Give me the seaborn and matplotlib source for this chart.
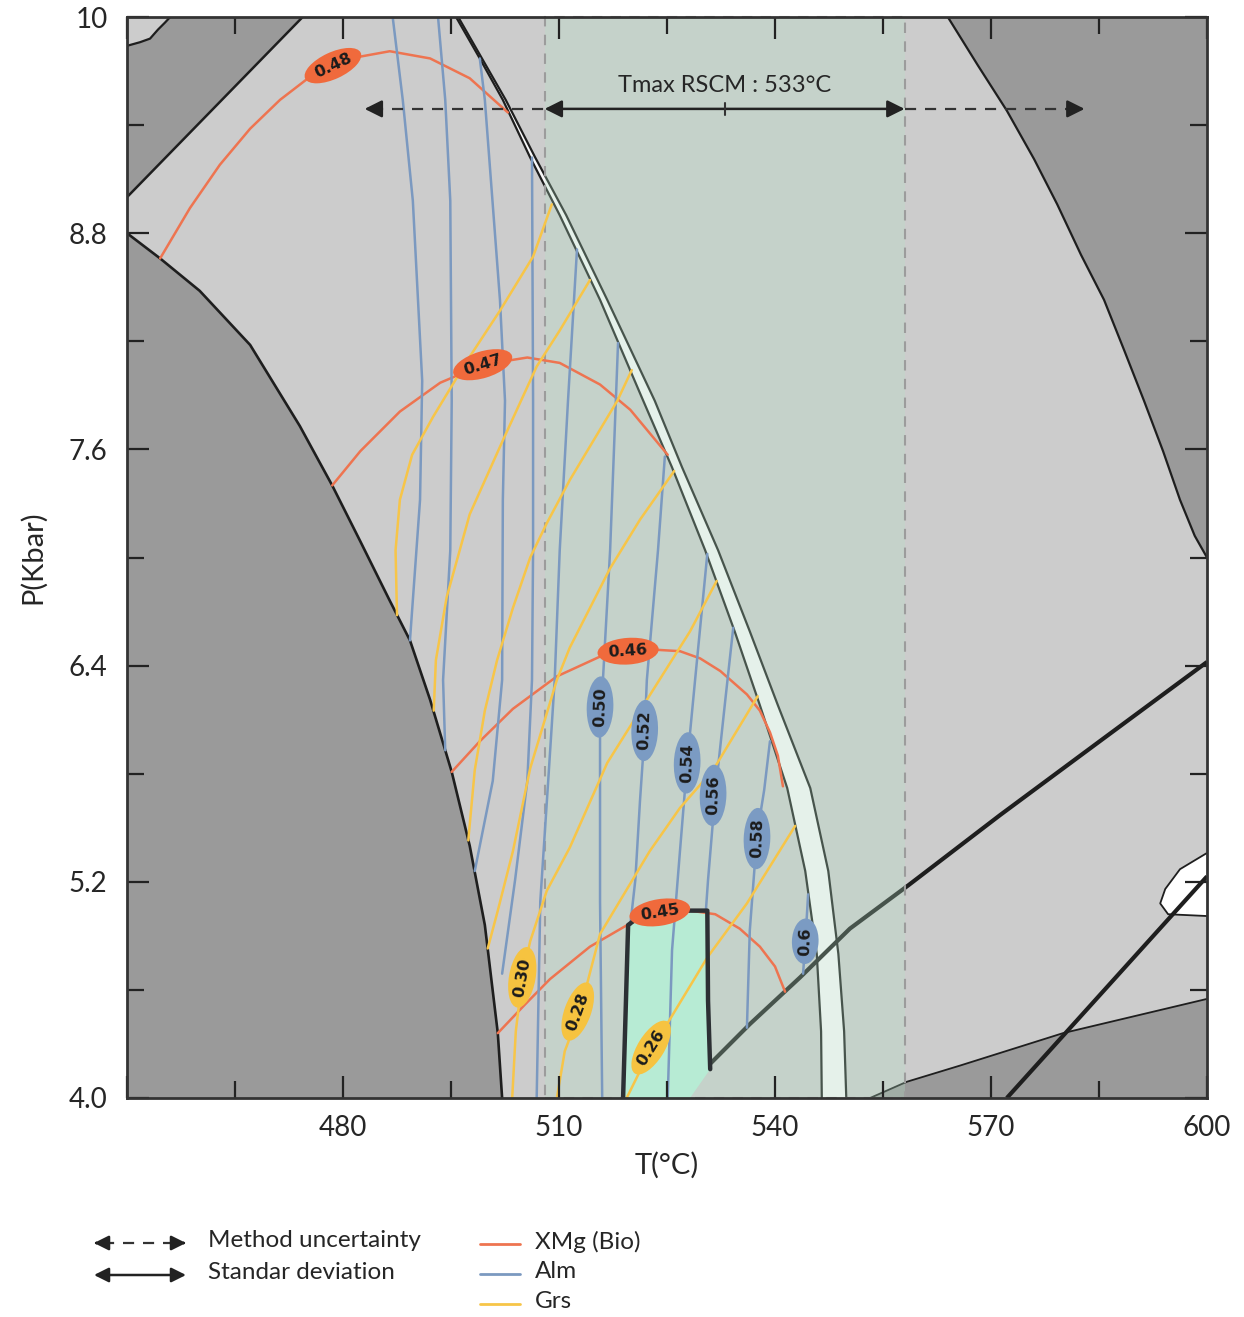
import numpy as np
import pandas as pd
import seaborn as sns
import matplotlib.pyplot as plt
from matplotlib.patches import Rectangle

sns.set_style("ticks")
plt.rcParams['font.family'] = ['Lato', 'DejaVu Sans']

# RSCM peak temperature (°C) and its ranges
tmax = 533
std_lo, std_hi = 508, 558
method_lo, method_hi = 483, 583
arrow_p = 9.49

# field boundaries, T (°C) / P (kbar)
corner_T = [450, 451.8, 453.2, 454.3, 455.3, 456.0]
corner_P = [9.84, 9.86, 9.88, 9.93, 9.97, 10.0]
edge_T = [474.4, 450]
edge_P = [10.0, 9.0]
left_T = [450.0, 454.6, 460.1, 467.1, 474.0, 478.5, 482.4, 486.5, 489.3, 492.1, 495.1, 497.6, 499.7, 501.5, 502.1]
left_P = [8.8, 8.66, 8.48, 8.18, 7.73, 7.40, 7.09, 6.76, 6.54, 6.21, 5.81, 5.40, 4.96, 4.36, 4.0]
bandL_T = [495.7, 499.0, 502.2, 506.0, 510.1, 515.7, 521.7, 525.7, 530.3, 534.4, 537.9, 541.7, 544.2, 545.8, 546.4, 546.5]
bandL_P = [10.0, 9.77, 9.54, 9.22, 8.90, 8.43, 7.87, 7.50, 7.04, 6.59, 6.18, 5.72, 5.26, 4.80, 4.37, 4.0]
bandR_T = [496.0, 499.3, 502.6, 506.7, 511.0, 516.7, 523.3, 527.1, 532.1, 536.5, 540.4, 544.9, 547.4, 548.8, 549.6, 549.9]
bandR_P = [10.0, 9.77, 9.54, 9.22, 8.90, 8.43, 7.87, 7.50, 7.04, 6.59, 6.18, 5.72, 5.26, 4.80, 4.37, 4.0]
tr_T = [564.0, 568.2, 572.2, 576.0, 579.2, 582.5, 585.7, 588.5, 591.25, 593.9, 596.25, 598.3, 600]
tr_P = [10.0, 9.73, 9.48, 9.21, 8.96, 8.68, 8.43, 8.15, 7.87, 7.59, 7.32, 7.12, 7.0]
br_T = [553.2, 558.3, 565.7, 580, 600]
br_P = [4.0, 4.09, 4.18, 4.36, 4.55]
rline1_T = [600, 585.1, 571.25, 558.5, 550.4, 543.5, 536.5, 531.0, 527.2]
rline1_P = [6.42, 5.98, 5.57, 5.18, 4.94, 4.67, 4.41, 4.19, 4.0]
rline2_T = [600, 572.2]
rline2_P = [5.23, 4.0]
pocket_T = [600, 596.25, 594.2, 593.5, 594.6, 600]
pocket_P = [5.36, 5.27, 5.16, 5.08, 5.02, 5.01]
mint_T = [518.9, 519.3, 519.6, 521.25, 527.2, 530.6, 530.7, 531.0, 528.2]
mint_P = [4.0, 4.54, 4.96, 5.01, 5.04, 5.04, 4.54, 4.16, 4.0]

# isopleths
xmg_values = [0.48, 0.47, 0.46, 0.45]
xmg_T = [
    [454.6, 458.75, 462.9, 467.1, 471.25, 475.8, 481.0, 486.5, 492.1, 497.6, 502.9],
    [478.5, 482.4, 487.9, 493.5, 499.4, 505.6, 510.1, 515.7, 519.9, 522.6, 525.1],
    [495.1, 499.0, 503.6, 509.7, 515.7, 519.4, 522.6, 526.8, 529.6, 532.4, 536.1, 537.9, 539.3, 540.4, 541.1],
    [501.5, 505.3, 508.75, 514.3, 519.9, 524.0, 528.2, 531.7, 535.1, 537.9, 540.0, 541.4],
]
xmg_P = [
    [8.66, 8.94, 9.18, 9.38, 9.54, 9.68, 9.77, 9.81, 9.77, 9.66, 9.47],
    [7.40, 7.59, 7.81, 7.97, 8.07, 8.11, 8.08, 7.96, 7.82, 7.69, 7.57],
    [5.81, 5.98, 6.16, 6.34, 6.45, 6.48, 6.49, 6.48, 6.44, 6.37, 6.24, 6.15, 6.03, 5.90, 5.73],
    [4.36, 4.52, 4.66, 4.84, 4.97, 5.03, 5.04, 5.02, 4.94, 4.84, 4.73, 4.59],
]
alm_values = [0.40, 0.42, 0.44, 0.46, 0.48, 0.50, 0.52, 0.54, 0.56, 0.58, 0.60]
alm_T = [
    [486.9, 488.3, 489.7, 491.0, 490.7, 489.3],
    [493.2, 494.2, 494.9, 495.1, 494.9, 493.9, 494.2],
    [499.0, 499.7, 501.8, 502.5, 502.2, 502.1, 500.8, 498.3],
    [506.25, 506.4, 506.4, 506.25, 505.6, 503.9, 502.1],
    [512.5, 511.25, 510.1, 509.4, 508.5, 507.4, 506.9],
    [518.2, 517.1, 516.1, 515.7, 515.7, 515.7, 516.0],
    [524.7, 523.75, 522.2, 521.9, 521.25, 520.6, 519.9],
    [530.6, 528.9, 527.8, 526.8, 525.7, 525.1],
    [534.2, 533.1, 531.7, 530.7, 530.4],
    [539.3, 538.5, 537.5, 536.5, 536.1],
    [544.6, 544.2, 543.9],
]
alm_P = [
    [10.0, 9.54, 8.98, 7.98, 7.32, 6.54],
    [10.0, 9.54, 8.98, 7.87, 7.04, 6.32, 5.93],
    [9.77, 9.54, 8.43, 7.87, 7.32, 6.32, 5.76, 5.26],
    [9.22, 7.87, 7.04, 6.32, 5.76, 5.21, 4.69],
    [8.71, 7.87, 7.04, 6.32, 5.76, 5.09, 4.0],
    [8.19, 7.04, 6.32, 6.17, 5.76, 5.09, 4.0],
    [7.56, 7.04, 6.32, 6.03, 5.65, 5.21, 4.96],
    [7.02, 6.32, 5.86, 5.37, 4.82, 4.0],
    [6.61, 6.21, 5.69, 5.21, 5.04],
    [5.98, 5.71, 5.46, 4.93, 4.39],
    [5.13, 4.86, 4.69],
]
grs_values = [0.38, 0.36, 0.34, 0.32, 0.30, 0.28, 0.26]
grs_T = [
    [487.5, 487.3, 487.9, 489.6, 492.5, 497.2, 501.8, 506.4, 509.0],
    [492.6, 492.9, 494.4, 497.6, 502.2, 506.9, 510.1, 514.3],
    [497.4, 498.3, 499.7, 501.4, 503.6, 506.0, 508.3, 511.5, 518.1, 520.1],
    [500.1, 501.5, 503.6, 506.0, 509.7, 511.5, 517.1, 521.25, 526.0],
    [503.5, 504.0, 504.9, 506.0, 508.3, 511.5, 516.7, 522.2, 528.2, 531.9],
    [509.7, 510.8, 512.9, 515.7, 522.6, 526.8, 531.4, 537.6],
    [519.4, 521.25, 522.6, 525.0, 530.6, 536.1, 542.8],
]
grs_P = [
    [6.68, 7.04, 7.32, 7.57, 7.78, 8.09, 8.37, 8.67, 8.96],
    [6.15, 6.43, 6.78, 7.24, 7.65, 8.06, 8.26, 8.54],
    [5.43, 5.82, 6.15, 6.43, 6.72, 7.0, 7.19, 7.43, 7.87, 8.04],
    [4.83, 5.04, 5.37, 5.83, 6.32, 6.5, 6.94, 7.21, 7.48],
    [4.0, 4.37, 4.67, 4.87, 5.15, 5.39, 5.86, 6.21, 6.59, 6.87],
    [4.0, 4.26, 4.48, 4.91, 5.37, 5.61, 5.82, 6.23],
    [4.0, 4.15, 4.27, 4.41, 4.78, 5.08, 5.51],
]

# isopleth labels
xmg_lab = ["0.48", "0.47", "0.46", "0.45"]
xmg_lab_T = [478.6, 499.4, 519.6, 524.0]
xmg_lab_P = [9.73, 8.07, 6.48, 5.03]
xmg_lab_rot = [25, 17, 4, 9]
alm_lab = ["0.50", "0.52", "0.54", "0.56", "0.58", "0.6"]
alm_lab_T = [515.7, 521.9, 527.8, 531.4, 537.5, 544.2]
alm_lab_P = [6.17, 6.04, 5.86, 5.68, 5.44, 4.87]
grs_lab = ["0.30", "0.28", "0.26"]
grs_lab_T = [504.9, 512.6, 522.8]
grs_lab_P = [4.67, 4.48, 4.28]
grs_lab_rot = [80, 70, 58]

LIGHT = "#cccccc"
DARK = "#9a9a9a"
EDGE = "#1e1e1e"
ORANGE = "#ee7450"
BLUE = "#7b99c0"
YELLOW = "#f7c548"


def long_table(values, Ts, Ps):
    rows = []
    for v, ts, ps in zip(values, Ts, Ps):
        for i, (t, p) in enumerate(zip(ts, ps)):
            rows.append({"iso": v, "order": i, "T": t, "P": p})
    return pd.DataFrame(rows)


fig = plt.figure(figsize=(12.44, 13.17), dpi=100)
ax = fig.add_axes([127 / 1244, 1 - 1098 / 1317, 1080 / 1244, 1081 / 1317])
ax.set_facecolor(LIGHT)

# fields
ax.fill(corner_T + edge_T, corner_P + edge_P, color=DARK, lw=0, zorder=1)
ax.fill(left_T + [450], left_P + [4.0], color=DARK, lw=0, zorder=1)
ax.fill(tr_T + [600], tr_P + [10.0], color=DARK, lw=0, zorder=1)
ax.fill(br_T + [600], br_P + [4.0], color=DARK, lw=0, zorder=1)
ax.fill(bandL_T + bandR_T[::-1], bandL_P + bandR_P[::-1], color="#f8f8f8", lw=0, zorder=1)
ax.fill(pocket_T, pocket_P, color="white", lw=0, zorder=1)

# boundaries
for ts, ps, w in [(corner_T, corner_P, 1.6), (edge_T, edge_P, 1.8), (left_T, left_P, 1.9),
                  (bandL_T, bandL_P, 1.6), (bandR_T, bandR_P, 1.6), (tr_T, tr_P, 1.6),
                  (br_T, br_P, 1.3), (pocket_T, pocket_P, 1.3),
                  (rline1_T, rline1_P, 3.0), (rline2_T, rline2_P, 3.0)]:
    ax.plot(ts, ps, color=EDGE, lw=w, zorder=2, solid_capstyle="butt", solid_joinstyle="round")

# RSCM window
ax.axvspan(std_lo, std_hi, color="#b4e2c6", alpha=0.28, lw=0, zorder=3)
ax.add_patch(Rectangle((std_lo, 4.0), std_hi - std_lo, 6.0, fill=False, ec="#9c9c9c",
                       ls=(0, (5, 4)), lw=1.5, zorder=3.3, clip_on=False))
ax.fill(mint_T, mint_P, color="#b7ebd4", lw=0, zorder=3.4)

# isopleths
for vals, Ts, Ps, col in [(xmg_values, xmg_T, xmg_P, ORANGE),
                          (alm_values, alm_T, alm_P, BLUE),
                          (grs_values, grs_T, grs_P, YELLOW)]:
    df = long_table(vals, Ts, Ps)
    sns.lineplot(data=df, x="T", y="P", units="iso", estimator=None, sort=False,
                 color=col, lw=1.8, ax=ax, zorder=4, legend=False,
                 solid_joinstyle="round")

ax.plot(mint_T[:-1], mint_P[:-1], color="#2c3034", lw=3.2, zorder=5, solid_joinstyle="round")

lab_kw = dict(ha="center", va="center", rotation_mode="anchor", fontsize=11.5,
              fontweight="bold", color="#1c1c1c", zorder=6, family=["DejaVu Sans"])
for s, t, p, r in zip(xmg_lab, xmg_lab_T, xmg_lab_P, xmg_lab_rot):
    ax.text(t, p, s, rotation=r, bbox=dict(boxstyle="ellipse,pad=0.12", fc="#f06a3c", ec="none"), **lab_kw)
for s, t, p in zip(alm_lab, alm_lab_T, alm_lab_P):
    ax.text(t, p, s, rotation=88, bbox=dict(boxstyle="ellipse,pad=0.12", fc="#7b9bc3", ec="none"), **lab_kw)
for s, t, p, r in zip(grs_lab, grs_lab_T, grs_lab_P, grs_lab_rot):
    ax.text(t, p, s, rotation=r, bbox=dict(boxstyle="ellipse,pad=0.12", fc="#f6c340", ec="none"), **lab_kw)

# temperature arrows
head = dict(color="#222222", lw=1.8, mutation_scale=26, shrinkA=0, shrinkB=0)
ax.annotate("", xy=(std_lo, arrow_p), xytext=(std_hi, arrow_p),
            arrowprops=dict(arrowstyle="<|-|>", **head), zorder=7)
ax.plot([method_lo + 1, std_lo], [arrow_p, arrow_p], color="#333333", lw=1.6, ls=(0, (5, 4)), zorder=7)
ax.plot([std_hi, method_hi - 1], [arrow_p, arrow_p], color="#333333", lw=1.6, ls=(0, (5, 4)), zorder=7)
ax.annotate("", xy=(method_lo, arrow_p), xytext=(method_lo + 2, arrow_p),
            arrowprops=dict(arrowstyle="-|>", **head), zorder=7)
ax.annotate("", xy=(method_hi, arrow_p), xytext=(method_hi - 2, arrow_p),
            arrowprops=dict(arrowstyle="-|>", **head), zorder=7)
ax.plot([tmax, tmax], [arrow_p - 0.035, arrow_p + 0.035], color="#333333", lw=1.5, zorder=7)
ax.text(tmax, 9.62, f"Tmax RSCM : {tmax}°C", ha="center", va="center", fontsize=17, zorder=7)

# axes
ax.set_xlim(450, 600)
ax.set_ylim(4, 10)
ax.set_xticks([450, 480, 510, 540, 570, 600], ["", "480", "510", "540", "570", "600"])
ax.set_xticks([465, 495, 525, 555, 585], minor=True)
ax.set_yticks([4.0, 5.2, 6.4, 7.6, 8.8, 10], ["4.0", "5.2", "6.4", "7.6", "8.8", "10"])
ax.set_yticks([4.6, 5.8, 7.0, 8.2, 9.4], minor=True)
ax.tick_params(which="both", direction="in", top=True, right=True, width=1.6,
               color="#222222", labelsize=20)
ax.tick_params(which="major", length=16, pad=12)
ax.tick_params(axis="y", which="major", pad=14)
ax.tick_params(which="minor", length=12)
ax.xaxis.set_zorder(8)
ax.yaxis.set_zorder(8)
for sp in ax.spines.values():
    sp.set_linewidth(2)
    sp.set_color("#333333")
    sp.set_zorder(9)
ax.set_xlabel("T(°C)", fontsize=21, labelpad=8)
ax.set_ylabel("P(Kbar)", fontsize=21, labelpad=16)

# legend panel
lax = fig.add_axes([0, 0, 1, 132 / 1317])
lax.set_xlim(0, 1244)
lax.set_ylim(1317, 1185)
lax.axis("off")
lhead = dict(color="#222222", lw=1.8, mutation_scale=22, shrinkA=0, shrinkB=0)
lax.plot([103, 177], [1243, 1243], color="#333333", lw=1.6, ls=(0, (5, 4)))
lax.annotate("", xy=(94, 1243), xytext=(97, 1243), arrowprops=dict(arrowstyle="-|>", **lhead))
lax.annotate("", xy=(186, 1243), xytext=(183, 1243), arrowprops=dict(arrowstyle="-|>", **lhead))
lax.annotate("", xy=(94, 1275), xytext=(186, 1275), arrowprops=dict(arrowstyle="<|-|>", **lhead))
lax.text(208, 1241, "Method uncertainty", va="center", fontsize=17.5)
lax.text(208, 1273, "Standar deviation", va="center", fontsize=17.5)
for yy, col, name in [(1244, ORANGE, "XMg (Bio)"), (1274, BLUE, "Alm"), (1304, YELLOW, "Grs")]:
    lax.plot([480, 520], [yy, yy], color=col, lw=2)
    lax.text(535, yy - 2, name, va="center", fontsize=17.5)

fig.savefig("out.png", dpi=100)
